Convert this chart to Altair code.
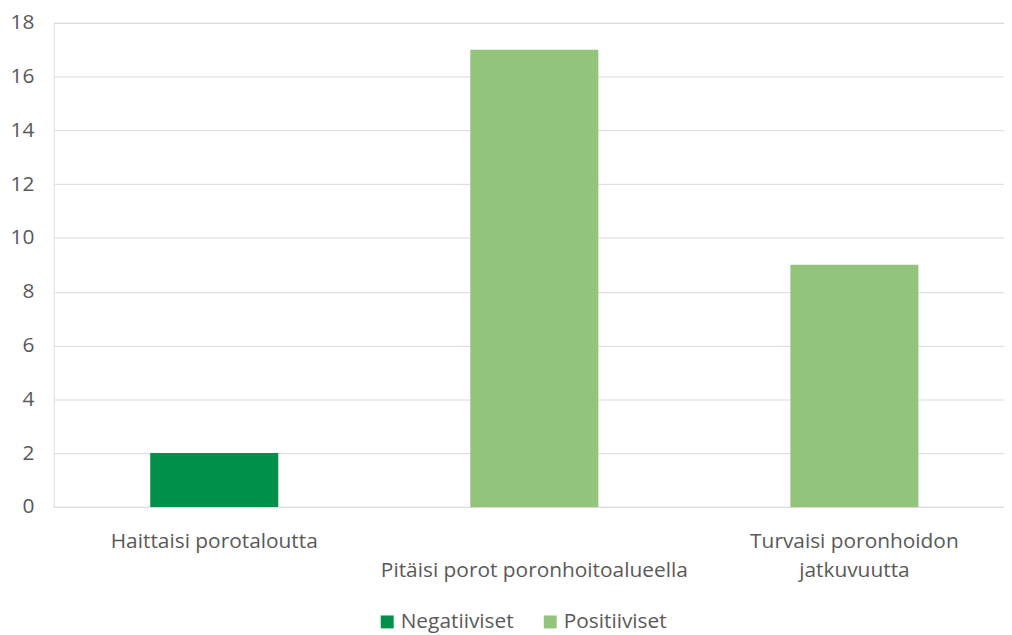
import altair as alt
import pandas as pd

categories = ["Haittaisi porotaloutta", "Pitäisi porot poronhoitoalueella", "Turvaisi poronhoidon jatkuvuutta"]
series = ["Negatiiviset", "Positiiviset", "Positiiviset"]
values = [2, 17, 9]

df = pd.DataFrame({"kategoria": categories, "sarja": series, "arvo": values})

FONT = "Open Sans"
TXT = "#595959"
FS = 21

label_expr = (
    "datum.value == 'Pitäisi porot poronhoitoalueella' ? ['', datum.value] : "
    "datum.value == 'Turvaisi poronhoidon jatkuvuutta' ? ['Turvaisi poronhoidon', 'jatkuvuutta'] : datum.value"
)

chart = alt.Chart(df).mark_bar().encode(
    x=alt.X("kategoria:N", sort=categories, title=None,
            scale=alt.Scale(paddingInner=0.6, paddingOuter=0.2845, align=0.53),
            axis=alt.Axis(labelAngle=0, domain=False, ticks=False, labelFont=FONT,
                          labelFontSize=FS, labelColor=TXT, labelPadding=35, labelLimit=0,
                          labelLineHeight=29, labelExpr=label_expr, labelBaseline="middle")),
    y=alt.Y("arvo:Q", title=None,
            scale=alt.Scale(domain=[0, 18]),
            axis=alt.Axis(values=list(range(0, 19, 2)), domain=False, ticks=False,
                          labelFont=FONT, labelFontSize=FS, labelColor=TXT, labelPadding=20,
                          gridColor="#D9D9D9", gridWidth=1)),
    color=alt.Color("sarja:N", title=None,
                    scale=alt.Scale(domain=["Negatiiviset", "Positiiviset"], range=["#00904A", "#93C47B"]),
                    legend=alt.Legend(orient="none", legendX=325, legendY=592, direction="horizontal",
                                      symbolType="square", symbolSize=169, symbolStrokeWidth=0,
                                      labelFont=FONT, labelFontSize=FS, labelColor=TXT, labelLimit=0,
                                      columnPadding=26, labelOffset=3)),
).properties(
    width=956, height=487,
    autosize=alt.AutoSizeParams(type="none"),
    padding={"left": 46, "top": 13, "right": 0, "bottom": 125},
).configure_view(stroke=None).configure(background="white")

chart.save("out.html", embed_options={"renderer": "svg", "actions": False})
